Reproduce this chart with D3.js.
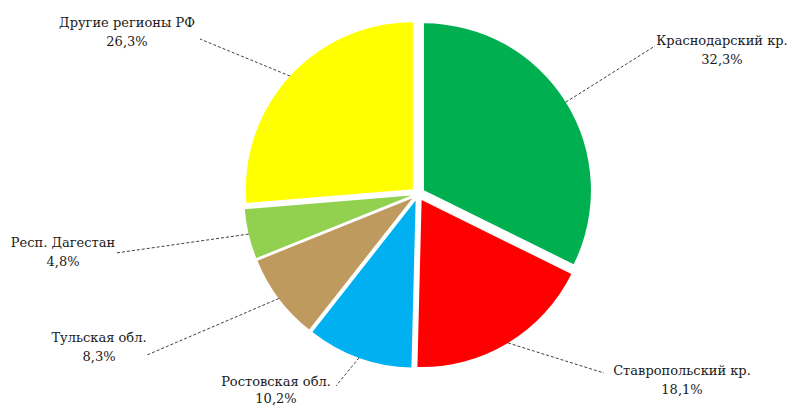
<!DOCTYPE html>
<html><head><meta charset="utf-8">
<script src="https://cdn.jsdelivr.net/npm/d3@7"></script>
<style>html,body{margin:0;padding:0;background:#fff;}svg{display:block;}</style>
</head><body>
<svg id="c" width="792" height="407"></svg>
<script>
const regions = ["Краснодарский кр.", "Ставропольский кр.", "Ростовская обл.", "Тульская обл.", "Респ. Дагестан", "Другие регионы РФ"];
const shares = [32.3, 18.1, 10.2, 8.3, 4.8, 26.3];
const colors = ["#00B050", "#FF0000", "#00B0F0", "#BF9A5E", "#92D050", "#FFFF00"];
// label layout: [center x, first baseline y, line gap, leader end x, leader end y]
const labelLayout = [
  [722, 45, 19, 655, 46],
  [682, 375, 19, 604, 373],
  [276, 386, 17, 336, 386],
  [99, 342, 19, 147, 355],
  [63, 247, 19, 116, 253],
  [127, 27, 19, 200, 39]
];

const svg = d3.select("#c");
const cx = 418, cy = 194, R = 167, explode = 7;
const pie = d3.pie().sort(null).value(d => d)(shares);
const arc = d3.arc().innerRadius(0).outerRadius(R);
const g = svg.append("g").attr("transform", `translate(${cx},${cy})`);

pie.forEach((p, i) => {
  const mid = (p.startAngle + p.endAngle) / 2;
  const dx = Math.sin(mid) * explode, dy = -Math.cos(mid) * explode;
  g.append("path").attr("d", arc(p)).attr("fill", colors[i])
    .attr("transform", `translate(${dx},${dy})`);
  const sx = Math.sin(mid) * (R + explode), sy = -Math.cos(mid) * (R + explode);
  const L = labelLayout[i];
  g.append("line").attr("x1", sx).attr("y1", sy)
    .attr("x2", L[3] - cx).attr("y2", L[4] - cy)
    .attr("stroke", "#404040").attr("stroke-width", 1).attr("stroke-dasharray", "3,2");
  const t = svg.append("text").attr("text-anchor", "middle")
    .style("font-family", "DejaVu Serif")
    .style("font-size", "13px").attr("fill", "#1a1a1a");
  t.append("tspan").attr("x", L[0]).attr("y", L[1]).text(regions[i]);
  t.append("tspan").attr("x", L[0]).attr("y", L[1] + L[2]).text(d3.format(".1f")(shares[i]).replace(".", ",") + "%");
});
</script>
</body></html>
